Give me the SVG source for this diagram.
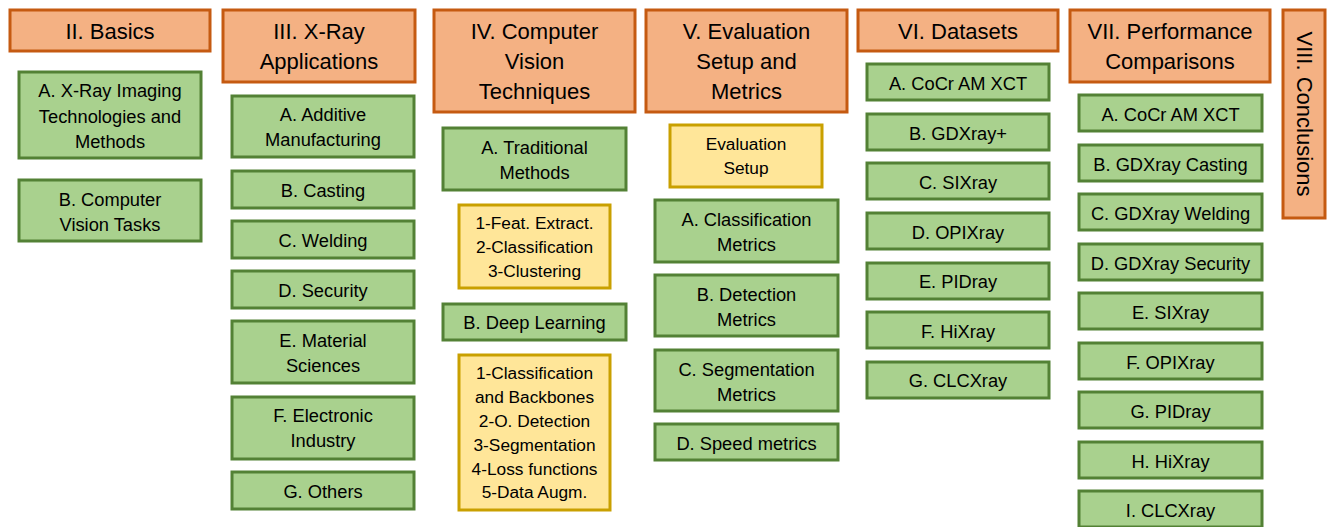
<svg xmlns="http://www.w3.org/2000/svg" width="1330" height="527" viewBox="0 0 1330 527">
<style>
text{font-family:"Liberation Sans",Arial,sans-serif;fill:#000;text-anchor:middle}
.h rect{fill:#F4B183;stroke:#C55A11;stroke-width:3}
.h text{font-size:22px}
.g rect{fill:#A9D18E;stroke:#538135;stroke-width:3}
.g text{font-size:18.3px}
.y rect{fill:#FFE699;stroke:#C9A000;stroke-width:3}
.y text{font-size:17.3px}
</style>
<rect width="1330" height="527" fill="#fff"/>
<g id="connectors"/>
<!-- Headers -->
<g id="h2" class="h"><rect x="10" y="10" width="200" height="41"/><text x="110" y="38.5">II. Basics</text></g>
<g id="h3" class="h"><rect x="223" y="10" width="192" height="72"/><text x="319" y="38.5">III. X-Ray</text><text x="319" y="68.5">Applications</text></g>
<g id="h4" class="h"><rect x="434" y="10" width="201" height="102"/><text x="534.5" y="38.5">IV. Computer</text><text x="534.5" y="68.5">Vision</text><text x="534.5" y="99">Techniques</text></g>
<g id="h5" class="h"><rect x="646" y="10" width="201" height="102"/><text x="746.5" y="38.5">V. Evaluation</text><text x="746.5" y="68.5">Setup and</text><text x="746.5" y="99">Metrics</text></g>
<g id="h6" class="h"><rect x="858" y="10" width="200" height="41"/><text x="958" y="38.5">VI. Datasets</text></g>
<g id="h7" class="h"><rect x="1070" y="10" width="200" height="72"/><text x="1170" y="38.5">VII. Performance</text><text x="1170" y="68.5">Comparisons</text></g>
<g id="h8" class="h"><rect x="1283" y="10" width="42" height="208"/><text transform="translate(1304,114) rotate(90)" x="0" y="7.5">VIII. Conclusions</text></g>
<!-- Basics -->
<g id="b_a" class="g"><rect x="19" y="72" width="182" height="86"/><text x="110" y="97">A. X-Ray Imaging</text><text x="110" y="122.5">Technologies and</text><text x="110" y="147.5">Methods</text></g>
<g id="b_b" class="g"><rect x="19" y="180" width="182" height="61"/><text x="110" y="205.5">B. Computer</text><text x="110" y="230.5">Vision Tasks</text></g>
<!-- X-Ray Applications -->
<g id="x_a" class="g"><rect x="232" y="96" width="182" height="61"/><text x="323" y="120.5">A. Additive</text><text x="323" y="145.5">Manufacturing</text></g>
<g id="x_b" class="g"><rect x="232" y="171" width="182" height="37"/><text x="323" y="196.5">B. Casting</text></g>
<g id="x_c" class="g"><rect x="232" y="221" width="182" height="37"/><text x="323" y="246.5">C. Welding</text></g>
<g id="x_d" class="g"><rect x="232" y="271" width="182" height="37"/><text x="323" y="296.5">D. Security</text></g>
<g id="x_e" class="g"><rect x="232" y="321" width="182" height="62"/><text x="323" y="346.5">E. Material</text><text x="323" y="371.5">Sciences</text></g>
<g id="x_f" class="g"><rect x="232" y="397" width="182" height="62"/><text x="323" y="421.5">F. Electronic</text><text x="323" y="447">Industry</text></g>
<g id="x_g" class="g"><rect x="232" y="472" width="182" height="37"/><text x="323" y="497.5">G. Others</text></g>
<!-- CV Techniques -->
<g id="cv_a" class="g"><rect x="443" y="128" width="183" height="62"/><text x="534.5" y="153.5">A. Traditional</text><text x="534.5" y="178.5">Methods</text></g>
<g id="cv_a_list" class="y"><rect x="459" y="205" width="151" height="83"/><text x="534.5" y="229">1-Feat. Extract.</text><text x="534.5" y="253">2-Classification</text><text x="534.5" y="277">3-Clustering</text></g>
<g id="cv_b" class="g"><rect x="443" y="304" width="183" height="36"/><text x="534.5" y="329">B. Deep Learning</text></g>
<g id="cv_b_list" class="y"><rect x="459" y="355" width="151" height="155"/><text x="534.5" y="379">1-Classification</text><text x="534.5" y="403">and Backbones</text><text x="534.5" y="427">2-O. Detection</text><text x="534.5" y="451">3-Segmentation</text><text x="534.5" y="474.5">4-Loss functions</text><text x="534.5" y="498">5-Data Augm.</text></g>
<!-- Evaluation -->
<g id="ev_setup" class="y"><rect x="670" y="125" width="152" height="62"/><text x="746" y="150">Evaluation</text><text x="746" y="174">Setup</text></g>
<g id="ev_a" class="g"><rect x="655" y="200" width="183" height="62"/><text x="746.5" y="225.5">A. Classification</text><text x="746.5" y="250.5">Metrics</text></g>
<g id="ev_b" class="g"><rect x="655" y="275" width="183" height="61"/><text x="746.5" y="300.5">B. Detection</text><text x="746.5" y="325.5">Metrics</text></g>
<g id="ev_c" class="g"><rect x="655" y="350" width="183" height="61"/><text x="746.5" y="375.5">C. Segmentation</text><text x="746.5" y="400.5">Metrics</text></g>
<g id="ev_d" class="g"><rect x="655" y="424" width="183" height="36"/><text x="746.5" y="449.5">D. Speed metrics</text></g>
<!-- Datasets -->
<g id="ds_a" class="g"><rect x="867" y="64" width="182" height="36"/><text x="958" y="89.5">A. CoCr AM XCT</text></g>
<g id="ds_b" class="g"><rect x="867" y="114" width="182" height="36"/><text x="958" y="139.5">B. GDXray+</text></g>
<g id="ds_c" class="g"><rect x="867" y="163" width="182" height="36"/><text x="958" y="188.5">C. SIXray</text></g>
<g id="ds_d" class="g"><rect x="867" y="213" width="182" height="36"/><text x="958" y="238.5">D. OPIXray</text></g>
<g id="ds_e" class="g"><rect x="867" y="263" width="182" height="36"/><text x="958" y="287.5">E. PIDray</text></g>
<g id="ds_f" class="g"><rect x="867" y="312" width="182" height="36"/><text x="958" y="337.5">F. HiXray</text></g>
<g id="ds_g" class="g"><rect x="867" y="362" width="182" height="36"/><text x="958" y="386.5">G. CLCXray</text></g>
<!-- Performance -->
<g id="pc_a" class="g"><rect x="1079" y="95" width="183" height="36"/><text x="1170.5" y="120.5">A. CoCr AM XCT</text></g>
<g id="pc_b" class="g"><rect x="1079" y="145" width="183" height="36"/><text x="1170.5" y="170.5">B. GDXray Casting</text></g>
<g id="pc_c" class="g"><rect x="1079" y="194" width="183" height="36"/><text x="1170.5" y="219.5">C. GDXray Welding</text></g>
<g id="pc_d" class="g"><rect x="1079" y="244" width="183" height="36"/><text x="1170.5" y="269.5">D. GDXray Security</text></g>
<g id="pc_e" class="g"><rect x="1079" y="293" width="183" height="36"/><text x="1170.5" y="318.5">E. SIXray</text></g>
<g id="pc_f" class="g"><rect x="1079" y="343" width="183" height="36"/><text x="1170.5" y="368.5">F. OPIXray</text></g>
<g id="pc_g" class="g"><rect x="1079" y="392" width="183" height="36"/><text x="1170.5" y="417.5">G. PIDray</text></g>
<g id="pc_h" class="g"><rect x="1079" y="442" width="183" height="36"/><text x="1170.5" y="467.5">H. HiXray</text></g>
<g id="pc_i" class="g"><rect x="1079" y="491" width="183" height="36"/><text x="1170.5" y="516.5">I. CLCXray</text></g>
</svg>
